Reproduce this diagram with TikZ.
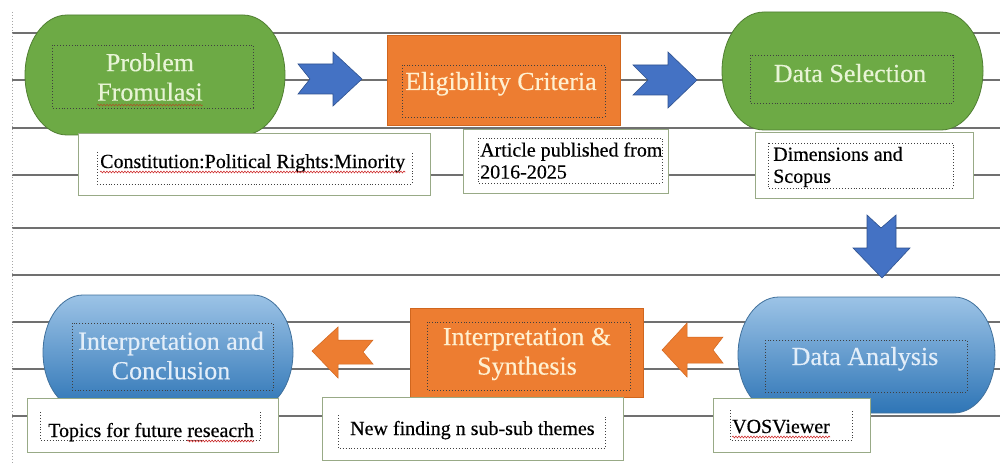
\documentclass[tikz,border=0pt]{standalone}
\usepackage{fontspec}
\setmainfont{LiberationSerif}[Extension=.ttf,UprightFont=*-Regular,BoldFont=*-Bold,ItalicFont=*-Italic,BoldItalicFont=*-BoldItalic,FakeBold=0.4]
\usetikzlibrary{calc,decorations.pathmorphing}
\definecolor{wgreen}{HTML}{6DAA45}
\definecolor{wgreenD}{HTML}{507E32}
\definecolor{worange}{HTML}{ED7D31}
\definecolor{worangeD}{HTML}{D0661E}
\definecolor{wblue}{HTML}{4472C4}
\definecolor{wblueD}{HTML}{2F528F}
\definecolor{gradTop}{HTML}{9CC3E6}
\definecolor{gradBot}{HTML}{2E75B6}
\definecolor{gradLine}{HTML}{41719C}
\definecolor{ruleC}{HTML}{707070}
\definecolor{boxLine}{HTML}{98AA86}
\definecolor{txtGreen}{HTML}{E8F4D6}
\definecolor{txtOrange}{HTML}{FFF0D0}
\definecolor{txtBlue}{HTML}{E3EEF9}
\definecolor{squigRed}{HTML}{D03030}
\definecolor{squigBrown}{HTML}{A65A28}

% terminator shape drawn round an (invisible) node: #1 node, #2 x radius, #3 style
\newcommand\termshape[3]{%
  \path[#3] let \p1=(#1.north west), \p2=(#1.south east) in
    (\x1+#2,\y1) -- (\x2-#2,\y1)
    arc[start angle=90,end angle=-90,x radius=#2,y radius={(\y1-\y2)/2}]
    -- (\x1+#2,\y2)
    arc[start angle=270,end angle=90,x radius=#2,y radius={(\y1-\y2)/2}]
    -- cycle;}

\begin{document}
\begin{tikzpicture}[x=1pt,y=-1pt,
  shapebox/.style={draw=none,inner sep=0pt,outer sep=0pt},
  greenfill/.style={fill=wgreen,draw=wgreenD,line width=0.8pt},
  bluefill/.style={top color=gradTop,bottom color=gradBot,draw=gradLine,line width=0.8pt},
  orect/.style={shapebox,fill=worange,draw=worangeD,line width=0.6pt},
  tbox/.style={shapebox,fill=white,draw=boxLine,line width=0.9pt},
  dotbox/.style={draw=black!75,dotted,line width=0.9pt},
  bigtxt/.style={inner sep=0pt,font=\fontsize{26}{29.5}\selectfont,align=center},
  smalltxt/.style={inner sep=0pt,font=\fontsize{20}{22}\selectfont,text=black},
  bluearrow/.style={fill=wblue,draw=wblueD,line width=0.6pt},
  orangearrow/.style={fill=worange,draw=worangeD,line width=0.5pt},
  ruleline/.style={draw=ruleC,line width=1.3pt},
  squiggle/.style={draw=squigRed,line width=0.6pt,decorate,decoration={snake,amplitude=0.9pt,segment length=3pt}}
]
\fill[white] (0,0) rectangle (1000,465);
\useasboundingbox (0,0) rectangle (1000,465);

% page rule lines and margin
\foreach \yy in {33,80,128,175,228,275,322,369,416}
  \draw[ruleline] (12,\yy) -- (1000,\yy);
\draw[gray!70,dotted,line width=1pt] (12,12) -- (12,465);

% main shapes
\node[shapebox,minimum width=260pt,minimum height=120pt] (pf) at (155,75) {};
\termshape{pf}{42pt}{greenfill}
\node[shapebox,minimum width=261pt,minimum height=118pt] (ds) at (852.5,71) {};
\termshape{ds}{42pt}{greenfill}
\node[shapebox,minimum width=257pt,minimum height=116pt] (da) at (866.5,355) {};
\termshape{da}{41pt}{bluefill}
\node[shapebox,minimum width=250pt,minimum height=115pt] (ic) at (168,352.5) {};
\termshape{ic}{40pt}{bluefill}
\node[orect,minimum width=233pt,minimum height=90pt] (ec) at (503.5,80) {};
\node[orect,minimum width=233pt,minimum height=89pt] (is) at (526.5,352.5) {};

% block arrows
\path[bluearrow] (298,64) -- (333,64) -- (333,52) -- (362,79) -- (333,106) -- (333,94) -- (298,94) -- (310,79) -- cycle;
\path[bluearrow] (633,65) -- (668,65) -- (668,52) -- (697,80) -- (668,108) -- (668,95) -- (633,95) -- (648,80) -- cycle;
\path[bluearrow] (867,215) -- (867,248) -- (853,248) -- (882,278) -- (910,248) -- (896,248) -- (896,215) -- (881,228) -- cycle;
\path[orangearrow] (312,351) -- (338,327) -- (338,340) -- (373,340) -- (363,352) -- (373,364) -- (338,364) -- (338,378) -- cycle;
\path[orangearrow] (662,350) -- (687,323) -- (687,337) -- (723,337) -- (713,350) -- (723,363) -- (687,363) -- (687,377) -- cycle;

% text boxes
\node[tbox,minimum width=352pt,minimum height=62pt] (b1) at (254,164) {};
\node[tbox,minimum width=205pt,minimum height=64pt] (b2) at (565.5,161) {};
\node[tbox,minimum width=218pt,minimum height=66pt] (b3) at (864,165) {};
\node[tbox,minimum width=251pt,minimum height=54pt] (b4) at (152.5,425) {};
\node[tbox,minimum width=301pt,minimum height=63pt] (b5) at (472.5,428.5) {};
\node[tbox,minimum width=157pt,minimum height=54pt] (b6) at (791.5,425) {};

% dotted text frames
\draw[dotbox] (52,45) rectangle (253,108);
\draw[dotbox] (402,65) rectangle (605,117);
\draw[dotbox] (750,55) rectangle (953,103);
\draw[dotbox] (765,340) rectangle (967,392);
\draw[dotbox] (427,322) rectangle (630,390);
\draw[dotbox] (72,323) rectangle (273,390);
\draw[dotbox] (97,152) -- (97,184) -- (412,184) -- (412,152);
\draw[dotbox] (478,138) rectangle (662,183);
\draw[dotbox] (768,143) rectangle (953,188);
\draw[dotbox] (40,412) -- (40,440) -- (260,440) -- (260,412);
\draw[dotbox] (338,415) -- (338,448) -- (605,448) -- (605,415);
\draw[dotbox] (730,410) -- (730,440) -- (852,440) -- (852,410);

% texts in shapes
\node[bigtxt,text=txtGreen] (pft) at (150,77) {Problem\\Fromulasi};
\node[bigtxt,text=txtOrange,anchor=base] (ect) at (501,90) {Eligibility Criteria};
\node[bigtxt,text=txtGreen,anchor=base] (dst) at (850,82) {Data Selection};
\node[bigtxt,text=txtBlue,anchor=base] (dat) at (865,365) {Data Analysis};
\node[bigtxt,text=txtOrange] (ist) at (527,354) {Interpretation \&\\Synthesis};
\node[bigtxt,text=txtBlue] (ict) at (171,355.6) {Interpretation and\\Conclusion};

% texts in boxes
\node[smalltxt,anchor=base west] (t1) at (100,168) {Constitution:Political Rights:Minority};
\node[smalltxt,anchor=west,align=left] (t2) at (480,160.6) {Article published from\\2016-2025};
\node[smalltxt,anchor=west,align=left] (t3) at (773,167) {Dimensions and\\Scopus};
\node[smalltxt,anchor=base west] (t4) at (48,437) {Topics for future reseacrh};
\node[smalltxt,anchor=base west] (t5) at (350,435) {New finding n sub-sub themes};
\node[smalltxt,anchor=base west] (t6) at (732,433) {VOSViewer};

% spell-check squiggles
\draw[squiggle] ($(t1.base west)+(0,4)$) -- ($(t1.base east)+(0,4)$);
\draw[squiggle] ($(t6.base west)+(0,4)$) -- ($(t6.base east)+(0,4)$);
\draw[squiggle] ($(t4.base east)+(-67,4)$) -- ($(t4.base east)+(0,4)$);
\draw[squiggle,draw=squigBrown] ($(pft.south west)+(0,4)$) -- ($(pft.south east)+(0,4)$);
\end{tikzpicture}
\end{document}
